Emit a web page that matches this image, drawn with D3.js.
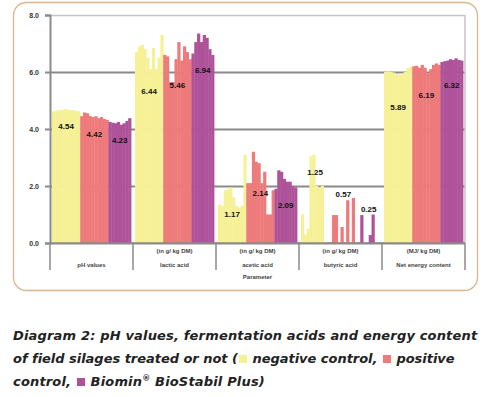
<!DOCTYPE html>
<html>
<head>
<meta charset="utf-8">
<script src="https://cdn.jsdelivr.net/npm/d3@7"></script>
<style>
  body { margin: 0; background: #fff; }
  #chart { position: absolute; left: 0; top: 0; }
  #caption {
    position: absolute; left: 13px; top: 324px; width: 470px;
    font-family: "DejaVu Sans", Verdana, sans-serif; font-weight: bold; font-style: italic;
    font-size: 13px; line-height: 23px; color: #222; white-space: nowrap; letter-spacing: 0.17px;
  }
  #caption .tight { letter-spacing: -0.03px; }
  #caption .sq { display: inline-block; width: 8px; height: 8px; margin: 0 1px; vertical-align: 0px; }
  #caption sup { font-size: 8px; vertical-align: 5px; line-height: 0; }
</style>
</head>
<body>
<div id="chart"></div>
<div id="caption"></div>
<script>
// categories along the x axis
const categories = ["pH values", "lactic acid", "acetic acid", "butyric acid", "Net energy content"];
const units = ["", "(in g/ kg DM)", "(in g/ kg DM)", "(in g/ kg DM)", "(MJ/ kg DM)"];
const series = ["negative control", "positive control", "Biomin® BioStabil Plus"];
const yTicks = [0, 2, 4, 6, 8];

// single silage samples per category (negative control)
const negative = [
  [4.62, 4.65, 4.66, 4.66, 4.7, 4.68, 4.66, 4.66, 4.64, 4.62],
  [6.7, 6.9, 6.95, 6.8, 6.5, 6.1, 6.85, 6.1, 6.5, 7.3],
  [1.35, 1.3, 1.85, 1.9, 1.95, 1.6, 1.3, 1.25, 1.3, 3.1],
  [1.0, 0.3, 0.5, 3.05, 3.1, 2.0, 1.95, 2.0, 0, 0],
  [6.0, 6.02, 6.0, 5.98, 5.92, 5.9, 5.95, 6.0, 6.15, 6.18]
];
// positive control
const positive = [
  [4.45, 4.58, 4.55, 4.45, 4.42, 4.45, 4.38, 4.42, 4.35, 4.32],
  [6.6, 6.55, 5.65, 5.65, 6.45, 7.05, 6.4, 6.9, 6.7, 6.45],
  [2.1, 2.1, 3.2, 2.85, 2.8, 2.1, 2.5, 1.0, 1.0, 1.85],
  [0, 0.98, 0.98, 0, 0.56, 0, 1.5, 0, 1.58, 0],
  [6.2, 6.22, 6.15, 6.25, 6.15, 5.95, 6.1, 6.25, 6.3, 6.25]
];
// Biomin BioStabil Plus
const biostabil = [
  [4.25, 4.22, 4.2, 4.25, 4.15, 4.2, 4.28, 4.38],
  [6.65, 7.05, 7.35, 7.05, 7.3, 7.2, 6.8, 6.6],
  [1.9, 2.55, 2.5, 2.25, 2.15, 2.15, 2.0, 1.95],
  [0, 0.98, 0, 0, 0.28, 1.0, 0, 0],
  [6.35, 6.38, 6.4, 6.45, 6.42, 6.48, 6.42, 6.4]
];
// mean values printed on the bars
const meanNegative = [4.54, 6.44, 1.17, 1.25, 5.89];
const meanPositive = [4.42, 5.46, 2.14, 0.57, 6.19];
const meanBiostabil = [4.23, 6.94, 2.09, 0.25, 6.32];

// hand placement of the mean labels (px from the value)
const labelDy = [
  [13, 17, 18],
  [32, -2, 25],
  [5, 11, 22],
  [-35, -33, -27],
  [32, 29, 22]
];

const colors = ["#f6f197", "#ee7b7b", "#ae5299"];

const W = 483, H = 397;
const margin = { top: 15, left: 50, right: 18, bottom: 154 };
const plotW = W - margin.left - margin.right;
const plotH = H - margin.top - margin.bottom;

const svg = d3.select("#chart").append("svg")
  .attr("width", W).attr("height", H);

// outer frame
svg.append("rect")
  .attr("x", 13.5).attr("y", 2.5).attr("width", 464).attr("height", 288)
  .attr("rx", 13).attr("fill", "none").attr("stroke", "#dbb68a").attr("stroke-width", 1.3);

const g = svg.append("g").attr("transform", `translate(${margin.left},${margin.top})`);

const x0 = d3.scaleBand().domain(categories).range([0, plotW]);
const y = d3.scaleLinear().domain([0, 8]).range([plotH, 0]);

// grid lines
const grid = g.append("g").call(d3.axisLeft(y).tickValues(yTicks).tickSize(-plotW).tickFormat(""));
grid.select(".domain").remove();
grid.selectAll(".tick line")
  .attr("stroke", (d) => (d === 8 ? "#c4c4c4" : "#8a8a8a"))
  .attr("stroke-width", (d) => (d === 8 ? 1.5 : 2));

// right border of the plot
g.append("line").attr("x1", plotW).attr("x2", plotW).attr("y1", 0).attr("y2", plotH)
  .attr("stroke", "#c4c4c4").attr("stroke-width", 1.5);

const allSeries = [negative, positive, biostabil];
const means = [meanNegative, meanPositive, meanBiostabil];

categories.forEach((cat, ci) => {
  // every sample gets its own slot inside the category
  const slots = [];
  allSeries.forEach((s, si) => s[ci].forEach((v, k) => slots.push({ si, k, v })));
  const xs = d3.scaleBand().domain(d3.range(slots.length))
    .range([x0(cat) + 2, x0(cat) + x0.bandwidth() - 2]);

  g.append("g").selectAll("rect").data(slots).join("rect")
    .attr("x", (d, i) => xs(i))
    .attr("width", xs.bandwidth() + 0.4)
    .attr("y", (d) => y(d.v))
    .attr("height", (d) => y(0) - y(d.v))
    .attr("fill", (d) => colors[d.si]);

  // mean labels centred on each series block
  series.forEach((s, si) => {
    const idx = slots.map((d, i) => (d.si === si ? i : -1)).filter((i) => i >= 0);
    const cx = (xs(idx[0]) + xs(idx[idx.length - 1]) + xs.bandwidth()) / 2;
    g.append("text")
      .attr("x", cx)
      .attr("y", y(means[si][ci]) + labelDy[ci][si])
      .attr("dy", "0.35em")
      .attr("text-anchor", "middle")
      .attr("font-family", "Liberation Sans, Arial, sans-serif")
      .attr("font-weight", "bold")
      .attr("font-size", 8)
      .attr("fill", "#111")
      .text(means[si][ci].toFixed(2));
  });
});

// y axis
const yAxis = g.append("g").call(d3.axisLeft(y).tickValues(yTicks).tickSize(5).tickPadding(6).tickFormat(d3.format(".1f")));
yAxis.select(".domain").attr("stroke", "#8a8a8a").attr("stroke-width", 2);
yAxis.selectAll(".tick line").attr("stroke", "#8a8a8a").attr("stroke-width", 2);
yAxis.selectAll(".tick text")
  .attr("font-family", "Liberation Sans, Arial, sans-serif")
  .attr("font-weight", "bold").attr("font-size", 7).attr("fill", "#333");

// category axis with separators below the plot
const xAxis = g.append("g").attr("transform", `translate(0,${plotH})`);
xAxis.append("line").attr("x1", 0).attr("x2", plotW).attr("stroke", "#8a8a8a").attr("stroke-width", 1.5);
xAxis.selectAll("line.sep").data(d3.range(categories.length + 1)).join("line")
  .attr("class", "sep")
  .attr("x1", (i) => i * x0.step()).attr("x2", (i) => i * x0.step())
  .attr("y1", 0).attr("y2", 27)
  .attr("stroke", "#8a8a8a").attr("stroke-width", 1.5);

const labelFont = (sel) => sel
  .attr("font-family", "Liberation Sans, Arial, sans-serif")
  .attr("font-weight", "bold").attr("font-size", 6).attr("fill", "#444")
  .attr("text-anchor", "middle");

xAxis.selectAll("text.unit").data(categories).join("text")
  .attr("class", "unit")
  .attr("x", (d) => x0(d) + x0.bandwidth() / 2).attr("y", 10)
  .call(labelFont).text((d, i) => units[i]);
xAxis.selectAll("text.cat").data(categories).join("text")
  .attr("class", "cat")
  .attr("x", (d) => x0(d) + x0.bandwidth() / 2).attr("y", 24)
  .call(labelFont).text((d) => d);
xAxis.append("text")
  .attr("x", x0(categories[2]) + x0.bandwidth() / 2).attr("y", 36)
  .call(labelFont).text("Parameter");

// caption under the chart
const cap = d3.select("#caption");
cap.append("span").text("Diagram 2: pH values, fermentation acids and energy content");
cap.append("br");
cap.append("span").attr("class", "tight").text("of field silages treated or not (");
cap.append("span").attr("class", "sq").style("background", colors[0]);
cap.append("span").attr("class", "tight").text(" negative control, ");
cap.append("span").attr("class", "sq").style("background", colors[1]);
cap.append("span").attr("class", "tight").text(" positive");
cap.append("br");
cap.append("span").text("control, ");
cap.append("span").attr("class", "sq").style("background", colors[2]);
cap.append("span").html(" Biomin<sup>®</sup> BioStabil Plus)");
</script>
</body>
</html>
